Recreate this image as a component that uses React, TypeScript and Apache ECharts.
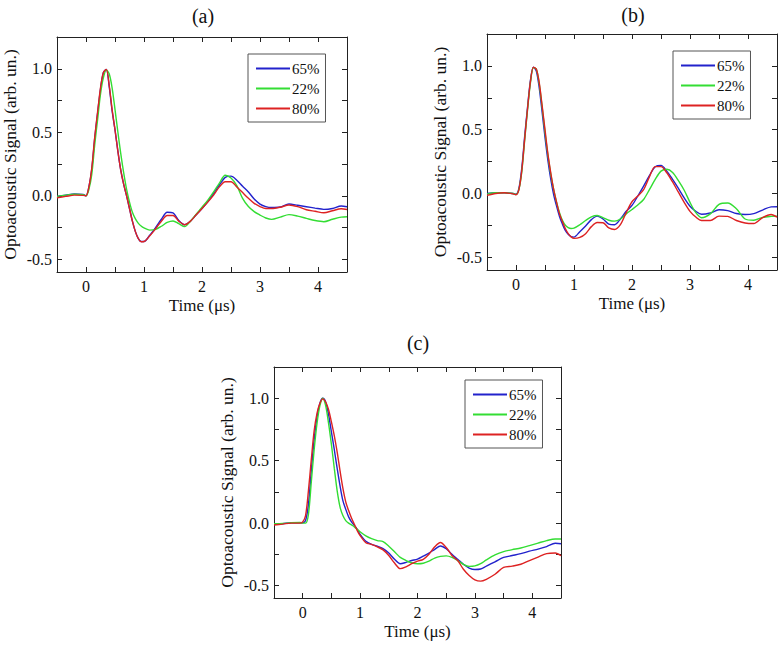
import React, { useEffect, useRef } from "react";
import * as echarts from "echarts";

// Shared time axis (µs)
const T = [-0.5, -0.35, -0.2, -0.05, 0, 0.05, 0.1, 0.15, 0.2, 0.25, 0.3, 0.35, 0.4, 0.45, 0.5, 0.55, 0.6, 0.65, 0.7, 0.75, 0.8, 0.85, 0.9, 0.95, 1.0,
  1.1, 1.2, 1.3, 1.4, 1.5, 1.6, 1.7, 1.8, 1.9, 2.0, 2.1, 2.2, 2.3, 2.4, 2.5, 2.6, 2.7, 2.8, 2.9, 3.0, 3.1, 3.2, 3.35, 3.5, 3.65, 3.8, 3.95, 4.1, 4.25, 4.4, 4.5];

// Panel (a)
const A65 = [-0.005, 0.005, 0.015, 0.01, 0.0, 0.07, 0.21, 0.45, 0.65, 0.84, 0.97, 0.995, 0.86, 0.67, 0.52, 0.35, 0.2, 0.09, 0.0, -0.1, -0.2, -0.28, -0.335, -0.36, -0.36,
  -0.31, -0.25, -0.185, -0.13, -0.135, -0.195, -0.228, -0.2, -0.15, -0.1, -0.045, 0.018, 0.085, 0.145, 0.155, 0.123, 0.075, 0.03, -0.025, -0.065, -0.085, -0.092, -0.088, -0.065, -0.075, -0.086, -0.097, -0.107, -0.1, -0.08, -0.086];
const A22 = [-0.005, 0.005, 0.012, 0.008, 0.0, 0.05, 0.17, 0.4, 0.6, 0.8, 0.93, 0.99, 0.96, 0.85, 0.68, 0.5, 0.33, 0.18, 0.05, -0.05, -0.13, -0.18, -0.215, -0.238, -0.253,
  -0.27, -0.265, -0.24, -0.21, -0.198, -0.22, -0.243, -0.2, -0.145, -0.09, -0.035, 0.03, 0.1, 0.162, 0.14, 0.08, -0.02, -0.085, -0.125, -0.152, -0.175, -0.186, -0.168, -0.148, -0.16, -0.178, -0.195, -0.204, -0.185, -0.168, -0.165];
const A80 = [-0.015, -0.005, 0.005, 0.003, 0.0, 0.07, 0.22, 0.46, 0.66, 0.85, 0.97, 0.995, 0.87, 0.68, 0.52, 0.35, 0.2, 0.09, 0.0, -0.1, -0.2, -0.28, -0.335, -0.362, -0.36,
  -0.315, -0.26, -0.2, -0.155, -0.155, -0.2, -0.228, -0.2, -0.15, -0.1, -0.05, 0.005, 0.07, 0.11, 0.11, 0.07, 0.025, -0.02, -0.06, -0.085, -0.1, -0.1, -0.09, -0.072, -0.085, -0.11, -0.122, -0.134, -0.118, -0.102, -0.108];

// Panel (b)
const B65 = [0.0, 0.005, 0.005, 0.0, -0.005, 0.04, 0.2, 0.45, 0.68, 0.89, 0.99, 0.96, 0.83, 0.64, 0.44, 0.26, 0.11, -0.01, -0.1, -0.18, -0.24, -0.29, -0.32, -0.338, -0.342,
  -0.3, -0.255, -0.205, -0.178, -0.2, -0.24, -0.245, -0.2, -0.14, -0.094, -0.02, 0.058, 0.14, 0.21, 0.22, 0.175, 0.11, 0.04, -0.035, -0.1, -0.14, -0.163, -0.153, -0.128, -0.135, -0.157, -0.165, -0.158, -0.13, -0.105, -0.104];
const B22 = [-0.005, 0.005, 0.005, 0.0, -0.008, 0.03, 0.17, 0.42, 0.66, 0.87, 0.985, 0.975, 0.86, 0.68, 0.48, 0.3, 0.15, 0.03, -0.07, -0.15, -0.21, -0.248, -0.268, -0.275, -0.272,
  -0.245, -0.212, -0.183, -0.173, -0.19, -0.21, -0.217, -0.2, -0.16, -0.126, -0.09, -0.047, 0.03, 0.11, 0.175, 0.19, 0.165, 0.1, 0.025, -0.07, -0.15, -0.19, -0.16, -0.085, -0.075, -0.12, -0.2, -0.21, -0.188, -0.18, -0.178];
const B80 = [-0.015, 0.0, 0.005, -0.003, -0.01, 0.03, 0.18, 0.43, 0.67, 0.88, 0.99, 0.975, 0.87, 0.69, 0.5, 0.31, 0.16, 0.03, -0.07, -0.16, -0.22, -0.275, -0.315, -0.34, -0.352,
  -0.345, -0.315, -0.26, -0.228, -0.23, -0.27, -0.282, -0.245, -0.15, -0.065, -0.02, 0.03, 0.13, 0.21, 0.21, 0.162, 0.09, 0.01, -0.07, -0.14, -0.185, -0.212, -0.212, -0.178, -0.18, -0.212, -0.232, -0.236, -0.19, -0.165, -0.186];

// Panel (c)
const C65 = [-0.008, -0.005, 0.003, 0.003, 0.003, 0.02, 0.15, 0.42, 0.67, 0.85, 0.96, 1.0, 0.97, 0.87, 0.73, 0.59, 0.44, 0.3, 0.18, 0.11, 0.05, 0.01, -0.02, -0.05, -0.09,
  -0.145, -0.17, -0.185, -0.205, -0.24, -0.29, -0.326, -0.315, -0.3, -0.288, -0.265, -0.24, -0.21, -0.183, -0.205, -0.25, -0.29, -0.33, -0.36, -0.372, -0.368, -0.345, -0.31, -0.275, -0.26, -0.245, -0.225, -0.208, -0.188, -0.162, -0.165];
const C22 = [-0.005, -0.003, 0.003, 0.005, 0.0, 0.0, 0.07, 0.33, 0.59, 0.8, 0.94, 1.0, 0.94, 0.8, 0.63, 0.44, 0.26, 0.13, 0.06, 0.02, 0.0, -0.015, -0.03, -0.05, -0.07,
  -0.103, -0.125, -0.14, -0.148, -0.185, -0.23, -0.275, -0.3, -0.318, -0.326, -0.322, -0.305, -0.28, -0.267, -0.263, -0.275, -0.3, -0.33, -0.347, -0.343, -0.325, -0.295, -0.255, -0.228, -0.213, -0.2, -0.18, -0.16, -0.14, -0.127, -0.127];
const C80 = [-0.015, -0.008, 0.0, 0.0, 0.01, 0.06, 0.26, 0.51, 0.74, 0.88, 0.96, 0.995, 0.97, 0.91, 0.81, 0.7, 0.57, 0.42, 0.28, 0.17, 0.1, 0.04, -0.01, -0.06, -0.1,
  -0.158, -0.17, -0.19, -0.215, -0.26, -0.32, -0.365, -0.35, -0.325, -0.305, -0.29, -0.25, -0.19, -0.155, -0.195, -0.26, -0.3, -0.37, -0.42, -0.455, -0.465, -0.45, -0.41, -0.355, -0.345, -0.33, -0.3, -0.272, -0.245, -0.24, -0.262];

const NAMES = ["65%", "22%", "80%"];
const COLORS = ["#2222cc", "#33dd33", "#dd2222"];
const PANEL_TITLES = ["(a)", "(b)", "(c)"];
const Y_TICKS = [-0.5, -0.25, 0, 0.25, 0.5, 0.75, 1.0];
const Y_LABELS = [-0.5, 0, 0.5, 1.0];
const X_TITLE = "Time (\u03bcs)";
const Y_TITLE = "Optoacoustic Signal (arb. un.)";

const PANELS = [
  { vals: [A65, A22, A80], grid: { left: 57, top: 37, width: 290, height: 235 }, title: [203, 16], legend: [248, 54] },
  { vals: [B65, B22, B80], grid: { left: 487, top: 34, width: 290, height: 236 }, title: [633, 15], legend: [673, 51] },
  { vals: [C65, C22, C80], grid: { left: 274, top: 367, width: 287, height: 231 }, title: [418, 343], legend: [465, 380] },
];

const FONT = "Liberation Serif";
const AX = "#222";

export default function App() {
  const ref = useRef<HTMLDivElement>(null);
  useEffect(() => {
    if (!ref.current) return;
    const chart = echarts.init(ref.current, null, { renderer: "svg" });
    const grid: any[] = [];
    const xAxis: any[] = [];
    const yAxis: any[] = [];
    const series: any[] = [];
    const legend: any[] = [];
    const graphic: any[] = [];
    const legendText = { fontFamily: FONT, fontSize: 15, color: "#111", padding: [0, 0, 0, -3] };
    PANELS.forEach((p, i) => {
      grid.push({ ...p.grid, containLabel: false, outerBoundsMode: "none" });
      const xBase = {
        type: "value", gridIndex: i, min: -0.5, max: 4.5, interval: 0.5,
        splitLine: { show: false },
        axisLine: { show: true, onZero: false, lineStyle: { color: AX, width: 1 } },
        axisTick: { show: true, inside: true, length: 5, lineStyle: { color: AX } },
      };
      xAxis.push({
        ...xBase, position: "bottom",
        name: X_TITLE, nameLocation: "middle", nameGap: 25,
        nameTextStyle: { fontFamily: FONT, fontSize: 17, color: "#111", verticalAlign: "top" },
        axisLabel: {
          fontFamily: FONT, fontSize: 16, color: "#111", margin: 6,
          formatter: (v: number) => (Math.abs(v - Math.round(v)) < 1e-6 ? String(Math.round(v)) : ""),
        },
      });
      xAxis.push({ ...xBase, position: "top", axisLabel: { show: false } });
      const yBase = {
        type: "value", gridIndex: i, min: -0.6, max: 1.25,
        splitLine: { show: false },
        axisLine: { show: true, onZero: false, lineStyle: { color: AX, width: 1 } },
        axisTick: { show: true, inside: true, length: 5, customValues: Y_TICKS, lineStyle: { color: AX } },
      };
      yAxis.push({
        ...yBase, position: "left",
        name: Y_TITLE, nameLocation: "middle", nameGap: 38, nameRotate: 90,
        nameTextStyle: { fontFamily: FONT, fontSize: 17.5, color: "#111" },
        axisLabel: {
          fontFamily: FONT, fontSize: 16, color: "#111", margin: 5, customValues: Y_LABELS,
          formatter: (v: number) => v.toFixed(1),
        },
      });
      yAxis.push({ ...yBase, position: "right", axisLabel: { show: false } });
      p.vals.forEach((arr, k) => {
        series.push({
          type: "line", name: NAMES[k], xAxisIndex: 2 * i, yAxisIndex: 2 * i,
          data: T.map((t, j) => [t, arr[j]]),
          smooth: 0.3, symbol: "none", showSymbol: false,
          lineStyle: { color: COLORS[k], width: 1.4 },
          itemStyle: { color: COLORS[k] },
          z: 2 + k,
        });
      });
      legend.push({
        data: NAMES.map((n) => ({ name: n, textStyle: legendText })),
        orient: "vertical", left: p.legend[0], top: p.legend[1],
        itemWidth: 34, itemHeight: 14, itemGap: 5,
        padding: [7, 6, 6, 7],
        borderColor: "#555", borderWidth: 1, backgroundColor: "#fff",
        itemStyle: { opacity: 0 },
        textStyle: legendText,
        selectedMode: false,
      });
      graphic.push({
        type: "text", x: p.title[0], y: p.title[1],
        style: { text: PANEL_TITLES[i], fontFamily: FONT, fontSize: 20, fill: "#111", align: "center", verticalAlign: "middle" },
      });
    });
    chart.setOption({
      animation: false,
      backgroundColor: "#fff",
      textStyle: { fontFamily: FONT },
      grid, xAxis, yAxis, series, legend, graphic,
    });
    return () => chart.dispose();
  }, []);
  return <div ref={ref} style={{ position: "absolute", left: 0, top: 0, width: 781, height: 646 }} />;
}
